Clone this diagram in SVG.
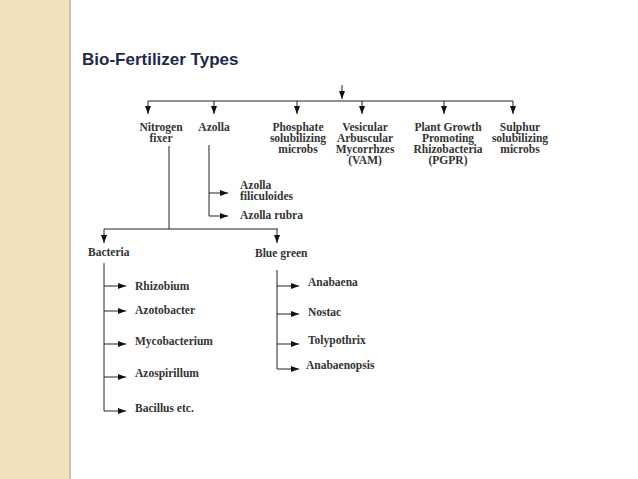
<svg xmlns="http://www.w3.org/2000/svg" width="638" height="479" viewBox="0 0 638 479">
<defs>
<marker id="ah" markerWidth="8" markerHeight="6" refX="8" refY="3" orient="auto" markerUnits="userSpaceOnUse"><path d="M0,0 L8,3 L0,6 Z" fill="#111"/></marker>
<style>
.t{font-family:"Liberation Serif",serif;font-weight:bold;font-size:11.5px;fill:#333}
.c{text-anchor:middle}
.l{stroke:#222;stroke-width:1;fill:none}
.a{stroke:#222;stroke-width:1;fill:none;marker-end:url(#ah)}
</style>
</defs>
<rect width="638" height="479" fill="#fff"/>
<rect width="69" height="479" fill="#f1e2be"/>
<rect x="69" width="2" height="479" fill="#cdbf9f"/>
<text x="82" y="65" font-family="Liberation Sans,Arial,sans-serif" font-weight="bold" font-size="17" fill="#1f2a4a">Bio-Fertilizer Types</text>
<g id="connectors">
<path class="a" d="M342,85 V99"/>
<path class="l" d="M148,101 H513"/>
<path class="a" d="M148,101 V114"/><path class="a" d="M214,101 V114"/><path class="a" d="M297,101 V114"/>
<path class="a" d="M362,101 V114"/><path class="a" d="M444,101 V114"/><path class="a" d="M513,101 V114"/>
<path class="l" d="M169,146 V229 M104,229 H278"/>
<path class="a" d="M104,229 V243"/><path class="a" d="M277,229 V243"/>
<path class="l" d="M209,145 V216"/>
<path class="a" d="M209,193 H228"/><path class="a" d="M209,216 H228"/>
<path class="l" d="M104,263 V411"/>
<path class="a" d="M104,286 H126"/><path class="a" d="M104,311 H126"/><path class="a" d="M104,344 H126"/><path class="a" d="M104,377 H126"/><path class="a" d="M104,411 H126"/>
<path class="l" d="M277,270 V369"/>
<path class="a" d="M277,286 H299"/><path class="a" d="M277,314 H299"/><path class="a" d="M277,344 H299"/><path class="a" d="M277,369 H299"/>
</g>
<g id="n-nitrogen"><text class="t c" x="161" y="131">Nitrogen</text><text class="t c" x="161" y="142">fixer</text></g>
<g id="n-azolla"><text class="t c" x="214" y="131">Azolla</text></g>
<g id="n-phosphate"><text class="t c" x="298" y="131">Phosphate</text><text class="t c" x="298" y="142">solubilizing</text><text class="t c" x="298" y="153">microbs</text></g>
<g id="n-vam"><text class="t c" x="365" y="131">Vesicular</text><text class="t c" x="365" y="142">Arbuscular</text><text class="t c" x="365" y="153">Mycorrhzes</text><text class="t c" x="365" y="164">(VAM)</text></g>
<g id="n-pgpr"><text class="t c" x="448" y="131">Plant Growth</text><text class="t c" x="448" y="142">Promoting</text><text class="t c" x="448" y="153">Rhizobacteria</text><text class="t c" x="448" y="164">(PGPR)</text></g>
<g id="n-sulphur"><text class="t c" x="520" y="131">Sulphur</text><text class="t c" x="520" y="142">solubilizing</text><text class="t c" x="520" y="153">microbs</text></g>
<g id="n-azf"><text class="t" x="240" y="189">Azolla</text><text class="t" x="240" y="200">filiculoides</text></g>
<g id="n-azr"><text class="t" x="240" y="219">Azolla rubra</text></g>
<g id="n-bacteria"><text class="t" x="88" y="256">Bacteria</text></g>
<g id="n-blue"><text class="t" x="255" y="257">Blue green</text></g>
<g id="n-rhiz"><text class="t" x="135" y="290">Rhizobium</text></g>
<g id="n-azot"><text class="t" x="135" y="314">Azotobacter</text></g>
<g id="n-myco"><text class="t" x="135" y="345">Mycobacterium</text></g>
<g id="n-azos"><text class="t" x="135" y="377">Azospirillum</text></g>
<g id="n-bac"><text class="t" x="135" y="412">Bacillus etc.</text></g>
<g id="n-anab"><text class="t" x="308" y="286">Anabaena</text></g>
<g id="n-nost"><text class="t" x="308" y="316">Nostac</text></g>
<g id="n-toly"><text class="t" x="308" y="344">Tolypothrix</text></g>
<g id="n-anabo"><text class="t" x="306" y="369">Anabaenopsis</text></g>
</svg>
